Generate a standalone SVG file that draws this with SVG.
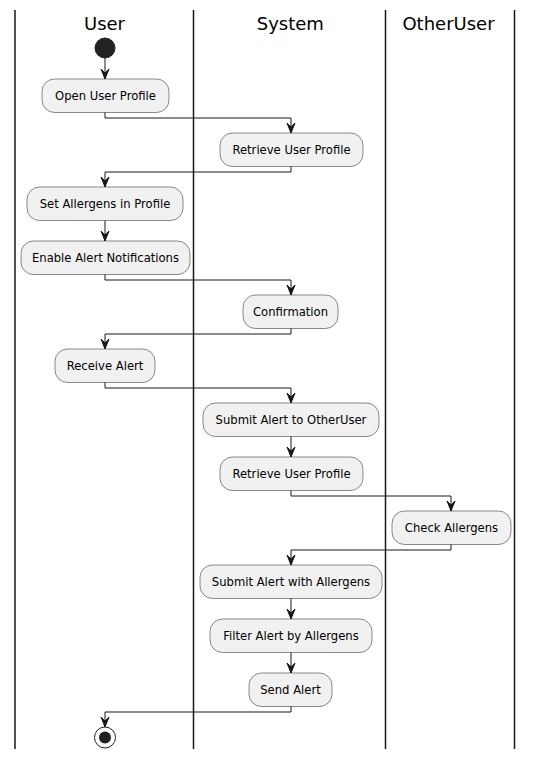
<svg xmlns="http://www.w3.org/2000/svg" width="533" height="759" viewBox="0 0 533 759">
<style>
.lane{stroke:#181818;stroke-width:1.5;fill:none}
.hdr{font-family:"DejaVu Sans",sans-serif;font-size:18px;fill:#000;text-anchor:middle}
.act rect{fill:#F1F1F1;stroke:#181818;stroke-width:0.5}
.act text{font-family:"DejaVu Sans",sans-serif;font-size:11.6px;fill:#000;text-anchor:middle}
.con path{stroke:#181818;stroke-width:1;fill:none}
.con polygon{fill:#181818;stroke:#181818;stroke-width:1}
</style>
<rect width="533" height="759" fill="#FFFFFF"/>
<g id="lanes">
<line class="lane" x1="15" y1="10" x2="15" y2="749"/>
<line class="lane" x1="193.5" y1="10" x2="193.5" y2="749"/>
<line class="lane" x1="385.5" y1="10" x2="385.5" y2="749"/>
<line class="lane" x1="514.5" y1="10" x2="514.5" y2="749"/>
<text class="hdr" x="104.5" y="30">User</text>
<text class="hdr" x="290.3" y="30">System</text>
<text class="hdr" x="448.5" y="30">OtherUser</text>
</g>
<g id="start"><circle cx="105" cy="48" r="10" fill="#222222" stroke="#222222"/></g>
<g id="n1" class="act"><rect x="42" y="79" width="127" height="33.5" rx="12.5"/><text x="105.5" y="100">Open User Profile</text></g>
<g id="n2" class="act"><rect x="220" y="133" width="143" height="33.5" rx="12.5"/><text x="291.5" y="154">Retrieve User Profile</text></g>
<g id="n3" class="act"><rect x="27" y="187" width="156" height="33.5" rx="12.5"/><text x="105" y="208">Set Allergens in Profile</text></g>
<g id="n4" class="act"><rect x="21" y="241" width="169" height="33.5" rx="12.5"/><text x="105.5" y="262">Enable Alert Notifications</text></g>
<g id="n5" class="act"><rect x="243" y="295" width="95" height="33.5" rx="12.5"/><text x="290.5" y="316">Confirmation</text></g>
<g id="n6" class="act"><rect x="55" y="349" width="100" height="33.5" rx="12.5"/><text x="105" y="370">Receive Alert</text></g>
<g id="n7" class="act"><rect x="203" y="403" width="176" height="33.5" rx="12.5"/><text x="291" y="424">Submit Alert to OtherUser</text></g>
<g id="n8" class="act"><rect x="220" y="457" width="143" height="33.5" rx="12.5"/><text x="291.5" y="478">Retrieve User Profile</text></g>
<g id="n9" class="act"><rect x="392" y="511" width="119" height="33.5" rx="12.5"/><text x="451.5" y="532">Check Allergens</text></g>
<g id="n10" class="act"><rect x="200" y="565" width="182" height="33.5" rx="12.5"/><text x="291" y="586">Submit Alert with Allergens</text></g>
<g id="n11" class="act"><rect x="210" y="619" width="162" height="33.5" rx="12.5"/><text x="291" y="640">Filter Alert by Allergens</text></g>
<g id="n12" class="act"><rect x="249" y="673" width="83" height="33.5" rx="12.5"/><text x="290.5" y="694">Send Alert</text></g>
<g id="stop"><circle cx="105" cy="737.5" r="10.5" fill="none" stroke="#222222" stroke-width="1"/><circle cx="105" cy="737.5" r="6" fill="#222222"/></g>
<g id="connectors" class="con">
<path d="M105,58 V79"/><polygon points="101,69 105,79 109,69 105,73"/>
<path d="M105,112.5 V118 H291 V133"/><polygon points="287,123 291,133 295,123 291,127"/>
<path d="M291,166.5 V172 H105 V187"/><polygon points="101,177 105,187 109,177 105,181"/>
<path d="M105,220.5 V241"/><polygon points="101,231 105,241 109,231 105,235"/>
<path d="M105,274.5 V280 H291 V295"/><polygon points="287,285 291,295 295,285 291,289"/>
<path d="M291,328.5 V334 H105 V349"/><polygon points="101,339 105,349 109,339 105,343"/>
<path d="M105,382.5 V388 H291 V403"/><polygon points="287,393 291,403 295,393 291,397"/>
<path d="M291,436.5 V457"/><polygon points="287,447 291,457 295,447 291,451"/>
<path d="M291,490.5 V496 H451 V511"/><polygon points="447,501 451,511 455,501 451,505"/>
<path d="M451,544.5 V550 H291 V565"/><polygon points="287,555 291,565 295,555 291,559"/>
<path d="M291,598.5 V619"/><polygon points="287,609 291,619 295,609 291,613"/>
<path d="M291,652.5 V673"/><polygon points="287,663 291,673 295,663 291,667"/>
<path d="M291,706.5 V712 H105 V727"/><polygon points="101,717 105,727 109,717 105,721"/>
</g>
</svg>
